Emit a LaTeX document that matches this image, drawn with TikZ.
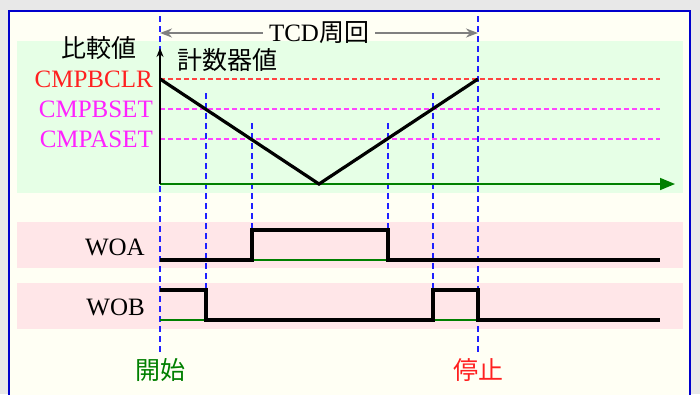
\documentclass[tikz,border=0pt]{standalone}
\usepackage{fontspec}
\setmainfont{Liberation Serif}
\newfontfamily\jp{Noto Sans CJK JP}
\usetikzlibrary{arrows.meta,positioning}
\definecolor{outergrey}{HTML}{E8E8E8}
\definecolor{ivory}{HTML}{FFFFF4}
\definecolor{frameblue}{HTML}{0000CC}
\definecolor{bandgreen}{HTML}{E6FFE6}
\definecolor{bandpink}{HTML}{FFE6E8}
\definecolor{clrred}{HTML}{FF2020}
\definecolor{setmag}{HTML}{FF22FF}
\definecolor{axisgreen}{HTML}{008000}
\definecolor{markblue}{HTML}{2020FF}

\begin{document}
\begin{tikzpicture}[x=1pt, y=-1pt, >=Stealth, font=\fontsize{25}{28}\selectfont]
        \tikzstyle{marker}=[markblue, line width=1.4pt, dash pattern=on 6pt off 4pt]
        \tikzstyle{levelline}=[line width=1.5pt, dash pattern=on 5pt off 3pt]
        \tikzstyle{wave}=[line width=3.2pt, line join=miter]
        \tikzstyle{base}=[axisgreen, line width=1.5pt]
        \tikzstyle{label}=[inner sep=0pt]
        \useasboundingbox (0,0) rectangle (700,394);
        \fill[outergrey] (0,0) rectangle (700,394);
        \draw[frameblue, line width=2pt, fill=ivory] (9,11) rectangle (690,402);
        \fill[bandgreen] (17,41) rectangle (683,193);
        \fill[bandpink] (17,222) rectangle (683,268);
        \fill[bandpink] (17,283) rectangle (683,329);
        % time marks
        \draw[marker] (160,16) -- (160,352);
        \draw[marker] (478,16) -- (478,352);
        \foreach \x/\y/\z in {206/93/290, 433/93/290, 252/123/230, 388/123/230} {
            \draw[marker] (\x,\y) -- (\x,\z);
        }
        % compare levels
        \foreach \y/\c/\t in {79/clrred/CMPBCLR, 109/setmag/CMPBSET, 139/setmag/CMPASET} {
            \draw[levelline, \c!85] (160,\y) -- (660,\y);
            \node[label, \c, anchor=east] at (153,\y) {\t};
        }
        % axes
        \coordinate (o) at (160,184);
        \draw[axisgreen, line width=1.6pt, -{Triangle[length=15pt,width=12pt]}] (o) -- (675,184);
        \draw[line width=1.6pt, -{Stealth[length=9pt,width=7pt]}] (o) -- (160,48);
        \node (cmp) at (99,48) {\jp 比較値};
        \node[label, anchor=west] (cnt) at (177,60) {\jp 計数器値};
        % counter
        \draw[wave] (160,79) -- (319,184) -- (478,79);
        % period
        \node[label] (tcd) at (319,33) {TCD{\jp 周回}};
        \draw[gray, line width=2pt, <-] (160,33) -- ([xshift=-6pt]tcd.west);
        \draw[gray, line width=2pt, ->] ([xshift=6pt]tcd.east) -- (478,33);
        % outputs
        \node[label, anchor=east] (woa) at (145,247) {WOA};
        \node[label, anchor=east] (wob) at (145,307) {WOB};
        \draw[base] (252,260) -- (388,260);
        \draw[base] (160,320) -- (206,320);
        \draw[base] (433,320) -- (478,320);
        \draw[wave] (160,260) -- (252,260) -- (252,230) -- (388,230) -- (388,260) -- (660,260);
        \draw[wave] (160,290) -- (206,290) -- (206,320) -- (433,320) -- (433,290) -- (478,290) -- (478,320) -- (660,320);
        \node[axisgreen] (start) at (160,370) {\jp 開始};
        \node[clrred] (stop) at (478,370) {\jp 停止};
    \end{tikzpicture}
\end{document}
